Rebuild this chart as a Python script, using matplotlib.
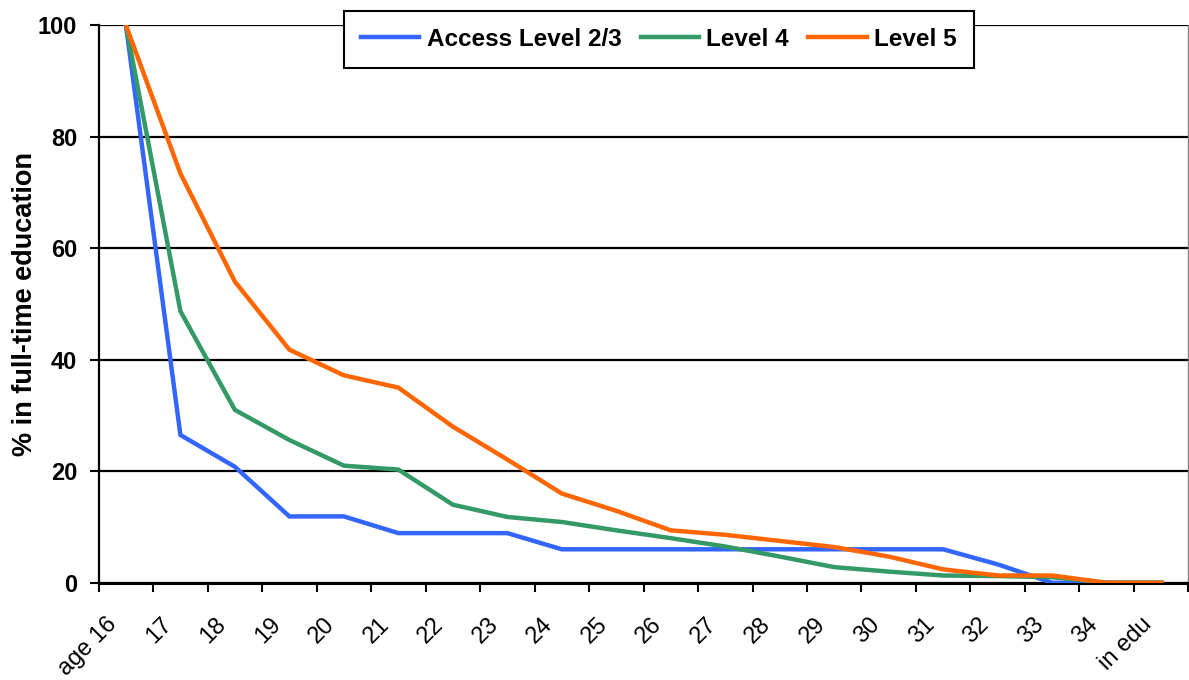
import numpy as np
import matplotlib
matplotlib.use("Agg")
import matplotlib.pyplot as plt
import matplotlib.transforms as mtrans

plt.rcParams['font.family'] = ['Liberation Sans', 'DejaVu Sans']

ages = ['age 16'] + [str(a) for a in range(17, 35)] + ['in edu']

# % still in full-time education
access_23 = [100, 26.5, 20.8, 11.9, 11.9, 8.9, 8.9, 8.9, 6.0, 6.0,
             6.0, 6.0, 6.0, 6.0, 6.0, 6.0, 3.3, 0.0, 0.0, 0.0]
level_4 = [100, 48.7, 31.0, 25.6, 21.0, 20.3, 14.0, 11.8, 10.9, 9.4,
           8.0, 6.5, 4.7, 2.8, 2.0, 1.3, 1.2, 1.0, 0.0, 0.0]
level_5 = [100, 73.4, 54.0, 41.8, 37.2, 35.0, 28.0, 22.1, 16.0, 12.9,
           9.4, 8.6, 7.5, 6.4, 4.7, 2.4, 1.3, 1.3, 0.0, 0.0]

series = [
    ('Access Level 2/3', access_23, '#3366FF'),
    ('Level 4', level_4, '#339966'),
    ('Level 5', level_5, '#FF6600'),
]

fig = plt.figure(figsize=(11.89, 6.80), dpi=100)
ax = fig.add_axes([0.083, 0.143, 0.9165, 0.820])

x = np.arange(len(ages))
for name, vals, col in series:
    ax.plot(x, vals, color=col, lw=3.2, label=name, solid_joinstyle='miter', zorder=3)

ax.set_xlim(-0.5, len(ages) - 0.5)
ax.set_ylim(0, 100)

# y axis
ax.set_yticks(np.arange(0, 101, 20))
ax.yaxis.grid(True, color='black', lw=1.6, zorder=1)
ax.tick_params(axis='y', direction='out', length=6.5, width=1.5, pad=9,
               labelsize=17)
for lab in ax.get_yticklabels():
    lab.set_fontweight('bold')
ax.set_ylabel('% in full-time education', fontsize=19.5, fontweight='bold',
              va='center')
ax.yaxis.set_label_coords(-0.068, 0.5)

# x axis: tick marks between categories, labels at centers
ax.set_xticks(np.arange(-0.5, len(ages), 1))
ax.set_xticklabels([])
ax.tick_params(axis='x', which='major', direction='out', length=6.5, width=1.5)
ax.set_xticks(x, minor=True)
ax.set_xticklabels(ages, minor=True, rotation=45, ha='right', va='top',
                   rotation_mode='anchor', fontsize=17)
ax.tick_params(axis='x', which='minor', length=0, pad=22)
shift = mtrans.ScaledTranslation(-20 / 100, 0, fig.dpi_scale_trans)
for lab in ax.get_xticklabels(minor=True):
    lab.set_transform(lab.get_transform() + shift)

ax.spines['left'].set_linewidth(1.6)
ax.spines['bottom'].set_linewidth(2.2)
ax.spines['top'].set_visible(False)
ax.spines['right'].set_color('#808080')
ax.spines['right'].set_linewidth(1.0)

leg = ax.legend(loc='center', bbox_to_anchor=(0.514, 0.975), ncol=3,
                frameon=True, fancybox=False, framealpha=1, edgecolor='black',
                prop={'weight': 'bold', 'size': 17.5}, handlelength=2.4,
                columnspacing=0.8, handletextpad=0.3, borderpad=0.7)
leg.get_frame().set_linewidth(1.5)
leg.set_zorder(5)

fig.savefig('out.png', dpi=100)
